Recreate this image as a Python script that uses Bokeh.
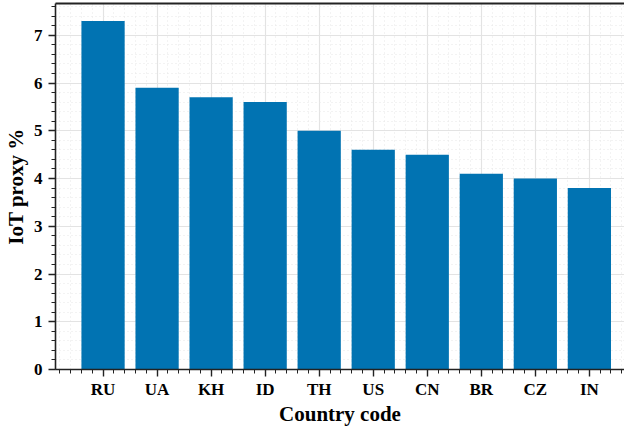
import numpy as np
from bokeh.plotting import figure
from bokeh.models import FixedTicker, LinearAxis, Range1d, ColumnDataSource
from bokeh.embed import file_html
from bokeh.resources import INLINE

countries = ["RU", "UA", "KH", "ID", "TH", "US", "CN", "BR", "CZ", "IN"]
iot_proxy = [7.3, 5.9, 5.7, 5.6, 5.0, 4.6, 4.5, 4.1, 4.0, 3.8]
y_ticks = [0, 1, 2, 3, 4, 5, 6, 7]

idx = list(range(len(countries)))
src = ColumnDataSource(dict(x=idx, top=iot_proxy, name=countries))

p = figure(width=624, height=428, output_backend="svg", toolbar_location=None,
           x_range=Range1d(-0.88, 9.65), y_range=Range1d(0, 7.665),
           min_border_left=0, min_border_right=0, min_border_top=3, min_border_bottom=0)
p.vbar(x="x", top="top", width=0.8, source=src, fill_color="#0173b2", line_color=None)
p.outline_line_color = None

FONT = "Liberation Serif"
AX = "#222222"

x_minor = [round(v, 2) for v in np.arange(-0.8, 9.61, 0.2)]
y_minor = [round(v, 2) for v in np.arange(0, 7.61, 0.2)]

xa = p.xaxis[0]
xa.ticker = FixedTicker(ticks=idx, minor_ticks=x_minor)
xa.major_label_overrides = {i: c for i, c in enumerate(countries)}
ya = p.yaxis[0]
ya.ticker = FixedTicker(ticks=y_ticks, minor_ticks=y_minor)

for ax in (xa, ya):
    ax.axis_line_color = AX
    ax.axis_line_width = 1.6
    ax.major_tick_line_color = AX
    ax.minor_tick_line_color = AX
    ax.major_tick_line_width = 1.4
    ax.minor_tick_line_width = 1
    ax.major_tick_in = 0
    ax.major_tick_out = 7
    ax.minor_tick_in = 0
    ax.minor_tick_out = 4
    ax.major_label_text_font = FONT
    ax.major_label_text_font_style = "bold"
    ax.major_label_text_font_size = "17px"
    ax.major_label_text_color = "black"
    ax.axis_label_text_font = FONT
    ax.axis_label_text_font_style = "bold"
    ax.axis_label_text_font_size = "21px"
    ax.axis_label_text_color = "black"

xa.major_label_standoff = 3
xa.axis_label_standoff = 0
ya.major_label_standoff = 6
ya.axis_label_standoff = 3

xa.axis_label = "Country code"
ya.axis_label = "IoT proxy %"

top = LinearAxis(ticker=FixedTicker(ticks=[]), major_label_text_font_size="0px",
                 major_tick_out=0, minor_tick_out=0, major_tick_in=0, minor_tick_in=0,
                 major_label_standoff=0, axis_line_color=AX, axis_line_width=2.2)
p.add_layout(top, "above")

for g in (p.xgrid[0], p.ygrid[0]):
    g.grid_line_color = "#e3e3e3"
    g.grid_line_width = 1.2
    g.minor_grid_line_color = "#e6e6e6"
    g.minor_grid_line_dash = "1 3"
    g.minor_grid_line_width = 1

open("out.html", "w").write(file_html(p, INLINE))
